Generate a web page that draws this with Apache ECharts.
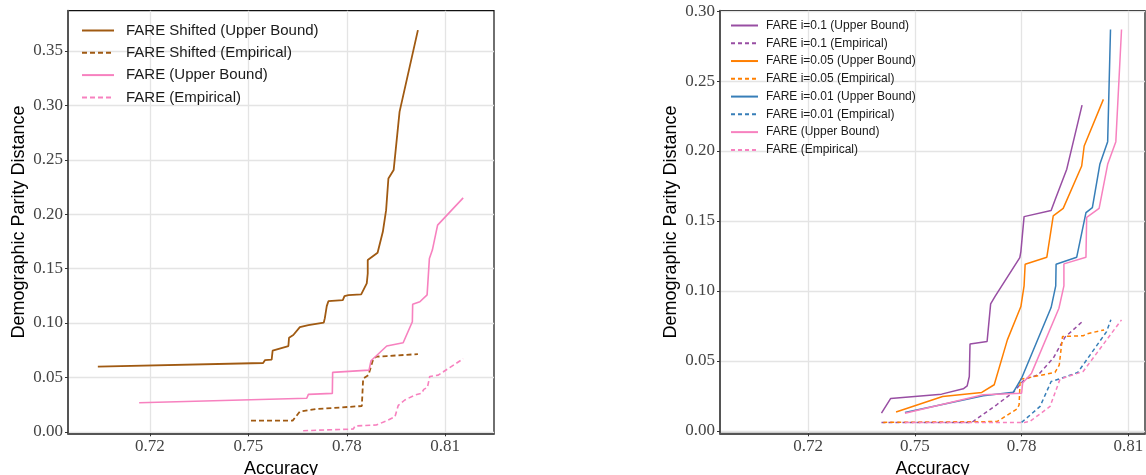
<!DOCTYPE html>
<html>
<head>
<meta charset="utf-8">
<script src="https://cdn.jsdelivr.net/npm/echarts/dist/echarts.min.js"></script>
<style>
html,body{margin:0;padding:0;background:#fff;overflow:hidden;}
#chart{width:1146px;height:475px;}
</style>
</head>
<body>
<div id="chart"></div>
<script>
// ---------- tick values ----------
const xTickValues = [0.72, 0.75, 0.78, 0.81];
const yTicksLeft = [0.00, 0.05, 0.10, 0.15, 0.20, 0.25, 0.30, 0.35];
const yTicksRight = [0.00, 0.05, 0.10, 0.15, 0.20, 0.25, 0.30];

// ---------- left panel data [accuracy, DP distance] ----------
const shiftedUpper = [[0.7041,0.0598],[0.7545,0.0632],[0.7551,0.0659],[0.7571,0.0663],[0.7574,0.0745],[0.7622,0.0788],[0.7624,0.0864],[0.7637,0.0889],[0.7657,0.0962],[0.7683,0.0981],[0.7688,0.0997],[0.773,0.1004],[0.7733,0.1042],[0.7739,0.1155],[0.7744,0.12],[0.7788,0.121],[0.7793,0.1247],[0.7805,0.1256],[0.7844,0.1263],[0.7861,0.1364],[0.7864,0.1455],[0.7864,0.1578],[0.7894,0.1645],[0.791,0.1838],[0.792,0.2037],[0.7927,0.2328],[0.7943,0.2405],[0.7961,0.294],[0.8017,0.3691]];
const shiftedEmp = [[0.7508,0.0102],[0.7635,0.0102],[0.7657,0.0186],[0.7706,0.0208],[0.7846,0.0237],[0.785,0.0488],[0.7866,0.052],[0.7874,0.06],[0.788,0.066],[0.789,0.069],[0.7922,0.0696],[0.8017,0.0714]];
const fareUpperL = [[0.7167,0.0267],[0.7678,0.0308],[0.7683,0.0344],[0.7756,0.0353],[0.7757,0.0546],[0.7868,0.0567],[0.7874,0.0653],[0.7922,0.0788],[0.7972,0.0818],[0.8,0.1011],[0.8001,0.1173],[0.8023,0.1195],[0.8045,0.1258],[0.8052,0.1593],[0.8061,0.167],[0.8077,0.1899],[0.8155,0.215]];
const fareEmpL = [[0.7667,0.001],[0.782,0.0025],[0.7825,0.0053],[0.789,0.0062],[0.7922,0.0102],[0.7947,0.0138],[0.7957,0.0242],[0.7977,0.0292],[0.8008,0.0338],[0.8028,0.0353],[0.8035,0.039],[0.8046,0.0408],[0.8053,0.0508],[0.8079,0.0521],[0.8155,0.0671]];

// ---------- right panel data ----------
const i01Upper = [[0.7406,0.0126],[0.7432,0.0231],[0.7575,0.0262],[0.7636,0.03],[0.7647,0.0321],[0.7653,0.0388],[0.7655,0.0621],[0.7703,0.0638],[0.7713,0.0907],[0.7725,0.0959],[0.7795,0.1238],[0.7798,0.1281],[0.7807,0.1531],[0.7883,0.1574],[0.7894,0.165],[0.7927,0.187],[0.797,0.2328]];
const i01Emp = [[0.7406,0.006],[0.766,0.006],[0.773,0.0186],[0.7777,0.0276],[0.7809,0.0369],[0.7847,0.04],[0.7889,0.0519],[0.7922,0.0669],[0.7971,0.0781]];
const i005Upper = [[0.7447,0.0134],[0.7578,0.0245],[0.7688,0.0274],[0.7723,0.0329],[0.776,0.065],[0.7798,0.0888],[0.7807,0.1036],[0.781,0.1191],[0.7871,0.1241],[0.7889,0.1536],[0.7917,0.159],[0.7969,0.1893],[0.7976,0.2036],[0.803,0.2369]];
const i005Emp = [[0.7411,0.006],[0.7731,0.0066],[0.7788,0.0157],[0.7793,0.0186],[0.7796,0.0368],[0.7894,0.0417],[0.7906,0.0471],[0.7915,0.0674],[0.7973,0.0679],[0.7983,0.0693],[0.8032,0.0721]];
const i001Upper = [[0.7472,0.0131],[0.7692,0.025],[0.7777,0.0276],[0.78,0.0376],[0.7883,0.0881],[0.7896,0.1036],[0.7897,0.1191],[0.7955,0.1241],[0.7981,0.1559],[0.7999,0.1595],[0.802,0.1905],[0.8042,0.2067],[0.805,0.2869]];
const i001Emp = [[0.78,0.006],[0.7852,0.0174],[0.7883,0.0352],[0.7922,0.0384],[0.7958,0.0417],[0.8039,0.0709],[0.8051,0.0793]];
const fareUpperR = [[0.7472,0.0126],[0.7692,0.0257],[0.78,0.0269],[0.7803,0.0341],[0.7828,0.0412],[0.7905,0.0876],[0.7919,0.1036],[0.7919,0.1193],[0.7981,0.1241],[0.7983,0.1526],[0.8018,0.159],[0.8042,0.1905],[0.8065,0.2067],[0.8081,0.2869]];
const fareEmpR = [[0.7472,0.006],[0.7808,0.006],[0.7823,0.0066],[0.788,0.0174],[0.7908,0.0369],[0.7973,0.0424],[0.8081,0.0793]];

const BROWN = '#a05a12', PINK = '#f781bf', PURPLE = '#984ea3', ORANGE = '#ff7f00', BLUE = '#377eb8';

const serifFont = 'Liberation Serif';
const sansFont = 'Liberation Sans';

function xAxisCfg(gi, min, max) {
  return {
    type: 'value', gridIndex: gi, min: min, max: max,
    name: 'Accuracy', nameLocation: 'middle', nameGap: 20,
    nameTextStyle: {fontFamily: sansFont, fontSize: 18, color: '#000'},
    axisLine: {show: true, onZero: false, lineStyle: {color: '#555', width: 2}},
    axisTick: {show: true, length: 3, customValues: xTickValues, lineStyle: {color: '#333', width: 1}},
    axisLabel: {customValues: xTickValues, formatter: v => v.toFixed(2), fontFamily: serifFont, fontSize: 17, color: '#444', margin: 5},
    splitLine: {show: true, lineStyle: {color: '#e4e4e4', width: 1.3}}
  };
}
function yAxisCfg(gi, min, max, ticks) {
  return {
    type: 'value', gridIndex: gi, min: min, max: max,
    name: 'Demographic Parity Distance', nameLocation: 'middle', nameGap: 40,
    nameTextStyle: {fontFamily: sansFont, fontSize: 18, color: '#000'},
    axisLine: {show: true, onZero: false, lineStyle: {color: '#555', width: 2}},
    axisTick: {show: true, length: 3, customValues: ticks, lineStyle: {color: '#333', width: 1}},
    axisLabel: {customValues: ticks, formatter: v => v.toFixed(2), fontFamily: serifFont, fontSize: 17, color: '#444', margin: 5},
    splitLine: {show: true, lineStyle: {color: '#e4e4e4', width: 1.3}}
  };
}
function line(name, data, gi, color, width, dashed) {
  return {
    name: name, type: 'line', xAxisIndex: gi, yAxisIndex: gi, data: data,
    symbol: 'none', showSymbol: false, silent: true,
    lineStyle: {color: color, width: width, type: dashed ? dashed : 'solid'},
    itemStyle: {color: color}
  };
}

const chart = echarts.init(document.getElementById('chart'), null, {renderer: 'canvas'});
chart.setOption({
  animation: false,
  backgroundColor: '#fff',
  grid: [
    {left: 68, top: 10.7, width: 426, height: 422.6, show: true, borderColor: '#111', borderWidth: 1.2, backgroundColor: 'transparent', outerBoundsMode: 'none', containLabel: false},
    {left: 720, top: 10.7, width: 425, height: 422.6, show: true, borderColor: '#111', borderWidth: 1.2, backgroundColor: 'transparent', outerBoundsMode: 'none', containLabel: false}
  ],
  xAxis: [xAxisCfg(0, 0.695, 0.8249), xAxisCfg(1, 0.6952, 0.8147)],
  yAxis: [yAxisCfg(0, -0.0014, 0.387, yTicksLeft), yAxisCfg(1, -0.0018, 0.3003, yTicksRight)],
  legend: [
    {
      data: ['FARE Shifted (Upper Bound)', 'FARE Shifted (Empirical)', 'FARE (Upper Bound)', 'FARE (Empirical)'],
      orient: 'vertical', left: 81, top: 23, padding: 0, itemWidth: 32, itemHeight: 10, itemGap: 7.3,
      selectedMode: false,
      itemStyle: {opacity: 0},
      textStyle: {fontFamily: sansFont, fontSize: 15, lineHeight: 15, color: '#1a1a1a', padding: [0, 0, 0, 7]}
    },
    {
      data: ['FARE i=0.1 (Upper Bound)', 'FARE i=0.1 (Empirical)', 'FARE i=0.05 (Upper Bound)', 'FARE i=0.05 (Empirical)', 'FARE i=0.01 (Upper Bound)', 'FARE i=0.01 (Empirical)', 'FARE (Upper Bound) ', 'FARE (Empirical) '],
      orient: 'vertical', left: 730, top: 19.5, padding: 0, itemWidth: 27, itemHeight: 10, itemGap: 5.77,
      selectedMode: false,
      itemStyle: {opacity: 0},
      formatter: n => n.trim(),
      textStyle: {fontFamily: sansFont, fontSize: 12, lineHeight: 12, color: '#1a1a1a', padding: [0, 0, 0, 3]}
    }
  ],
  series: [
    line('FARE Shifted (Upper Bound)', shiftedUpper, 0, BROWN, 1.8),
    line('FARE Shifted (Empirical)', shiftedEmp, 0, BROWN, 1.8, [5, 3]),
    line('FARE (Upper Bound)', fareUpperL, 0, PINK, 1.6),
    line('FARE (Empirical)', fareEmpL, 0, PINK, 1.6, [5, 3]),
    line('FARE i=0.1 (Upper Bound)', i01Upper, 1, PURPLE, 1.5),
    line('FARE i=0.1 (Empirical)', i01Emp, 1, PURPLE, 1.5, [4, 3]),
    line('FARE i=0.05 (Upper Bound)', i005Upper, 1, ORANGE, 1.5),
    line('FARE i=0.05 (Empirical)', i005Emp, 1, ORANGE, 1.5, [4, 3]),
    line('FARE i=0.01 (Upper Bound)', i001Upper, 1, BLUE, 1.5),
    line('FARE i=0.01 (Empirical)', i001Emp, 1, BLUE, 1.5, [4, 3]),
    line('FARE (Upper Bound) ', fareUpperR, 1, PINK, 1.5),
    line('FARE (Empirical) ', fareEmpR, 1, PINK, 1.5, [4, 3])
  ]
});
</script>
</body>
</html>
